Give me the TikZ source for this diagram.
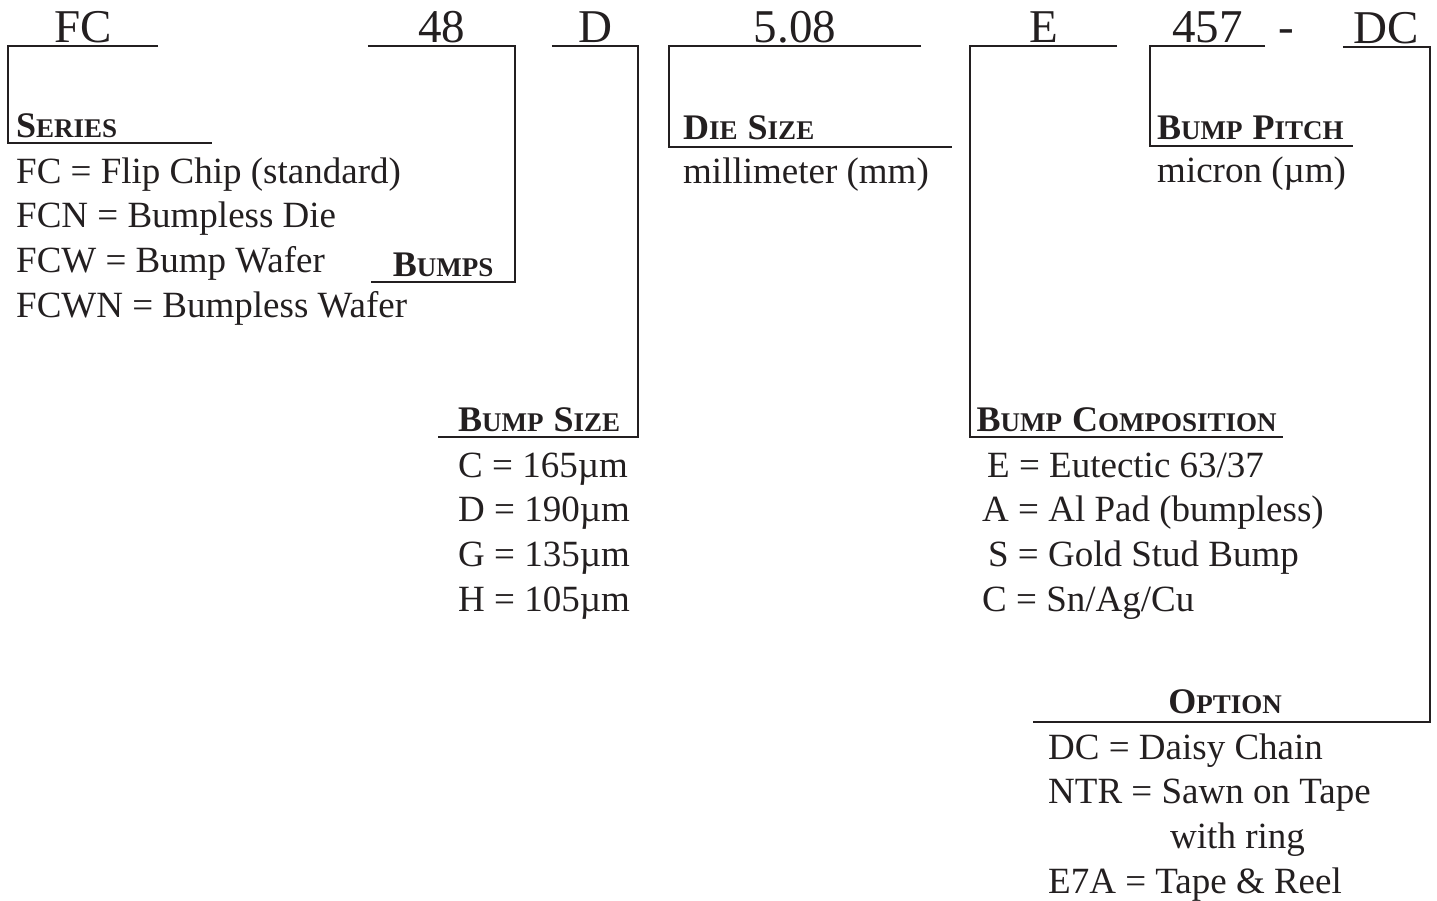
\documentclass[tikz,border=0pt]{standalone}
\usepackage{fontspec}
\setmainfont{Liberation Serif}
\definecolor{ink}{RGB}{35,31,32}
\newcommand\bodyfont{\fontsize{37pt}{44.5pt}\selectfont}
\newcommand\codefont{\fontsize{47pt}{52pt}\selectfont}
% fake small caps for the headings
\newcommand\hdcap[2]{{\fontsize{36pt}{40pt}\selectfont #1}{\fontsize{27pt}{30pt}\selectfont #2}}
\newcommand\hdgap{\hspace{10pt}}
\tikzset{
  % --- part number fields
  code/.style={
    font=\codefont,
    text=ink,
    inner sep=0pt,
    text depth=4pt,
    anchor=base
  },
  % --- field headings
  hd/.style={
    font=\bfseries,
    text=ink,
    inner sep=0pt,
    text depth=5pt,
    anchor=south west
  },
  % --- value lists
  lst/.style={
    font=\bodyfont,
    text=ink,
    inner sep=0pt,
    anchor=base west
  },
  % --- connectors
  bracket/.style={
    draw=ink,
    line width=2.4pt,
    line join=miter
  },
}
\begin{document}
\begin{tikzpicture}[x=1pt, y=-1pt]
  \useasboundingbox (0,0) rectangle (1437,900);
  % --- part number
  \node[code, minimum width=150pt] (fc)  at (83, 42)     {FC};
  \node[code, minimum width=147pt] (n48) at (441.5, 42)  {48};
  \node[code, minimum width=86pt]  (d)   at (595, 42)    {D};
  \node[code, minimum width=252pt] (dsz) at (795, 42)    {5.08};
  \node[code, minimum width=147pt] (e)   at (1043.5, 42) {E};
  \node[code, minimum width=115pt] (p457) at (1207.5, 42) {457};
  \node[code]                      (dash) at (1286, 42)  {-};
  \node[code, minimum width=87pt]  (dc)  at (1386.5, 43) {DC};
  % --- headings
  \node[hd, text width=188pt, inner xsep=8pt, align=left] (series) at (8, 143) {\hdcap{S}{ERIES}};
  \node[hd, minimum width=144pt] (bumps)    at (371, 282)  {\hdcap{B}{UMPS}};
  \node[hd, minimum width=202pt] (bumpsize) at (438, 437)  {\hdcap{B}{UMP}\hdgap\hdcap{S}{IZE}};
  \node[hd, text width=255pt, inner xsep=14pt, align=left, text depth=7pt] (diesize) at (669, 147) {\hdcap{D}{IE}\hdgap\hdcap{S}{IZE}};
  \node[hd, minimum width=313pt] (comp) at (970, 437) {\hdcap{B}{UMP}\hdgap\hdcap{C}{OMPOSITION}};
  \node[hd, text width=189pt, inner xsep=7pt, align=left, text depth=6pt] (pitch) at (1150, 146) {\hdcap{B}{UMP}\hdgap\hdcap{P}{ITCH}};
  \node[hd, minimum width=384pt, text depth=8pt] (option)   at (1033, 722) {\hdcap{O}{PTION}};
  % --- brackets
  \draw[bracket] (fc.south east) -- (fc.south west) |- (series.south east);
  \draw[bracket] (n48.south west) -- (n48.south east) |- (bumps.south west);
  \draw[bracket] (d.south west) -- (d.south east) |- (bumpsize.south west);
  \draw[bracket] (dsz.south east) -- (dsz.south west) |- (diesize.south east);
  \draw[bracket] (e.south east) -- (e.south west) |- (comp.south east);
  \draw[bracket] (p457.south east) -- (p457.south west) |- (pitch.south east);
  \draw[bracket] (dc.south west) -- (dc.south east) |- (option.south west);
  % --- values
  \foreach \txt [count=\i from 0] in {FC = Flip Chip (standard), FCN = Bumpless Die,
      FCW = Bump Wafer, FCWN = Bumpless Wafer}
    \node[lst] (series-\i) at (16, 183+44.7*\i) {\txt};
  \node[lst] (die-0)   at (683, 183)  {millimeter (mm)};
  \node[lst] (pitch-0) at (1157, 182) {micron (µm)};
  \foreach \txt [count=\i from 0] in {C = 165µm, D = 190µm, G = 135µm, H = 105µm}
    \node[lst] (size-\i) at (458, 477+44.7*\i) {\txt};
  \foreach \txt [count=\i from 0] in {\hspace*{5pt}E = Eutectic 63/37, A = Al Pad (bumpless),
      \hspace*{6pt}S = Gold Stud Bump, C = Sn/Ag/Cu}
    \node[lst] (comp-\i) at (982, 477+44.7*\i) {\txt};
  \foreach \txt [count=\i from 0] in {DC = Daisy Chain, NTR = Sawn on Tape,
      \hspace*{122pt}with ring, E7A = Tape \& Reel}
    \node[lst] (option-\i) at (1048, 759+44.7*\i) {\txt};
\end{tikzpicture}
\end{document}
